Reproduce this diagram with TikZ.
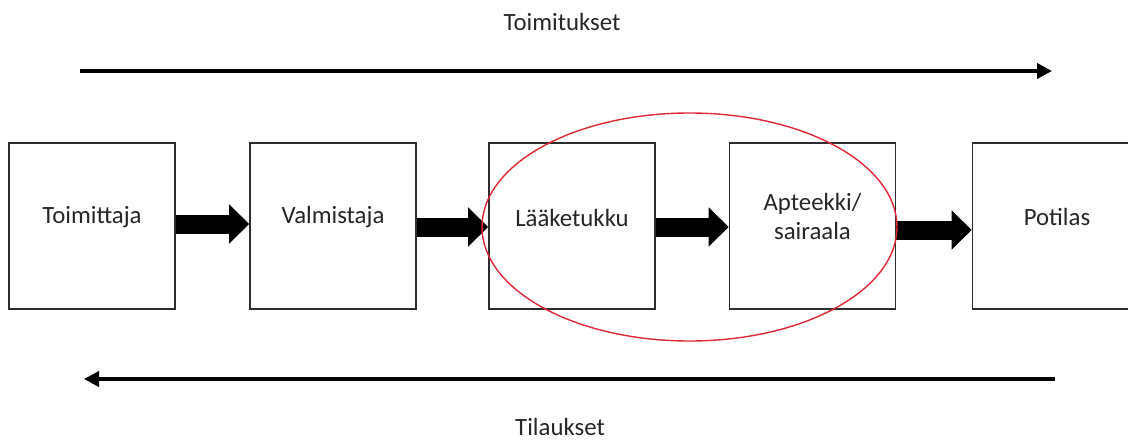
\documentclass[tikz,border=0pt]{standalone}
\usepackage{fontspec}
\setmainfont{Carlito}
\usetikzlibrary{arrows.meta}
\definecolor{loopred}{RGB}{222,40,52}
\definecolor{boxline}{RGB}{45,45,45}
\tikzset{
  lbl/.style={font=\fontsize{24.8}{29}\selectfont, text=black!85, inner sep=0pt, align=center},
  chainbox/.style={draw=boxline, line width=1.6pt, minimum width=166pt, minimum height=166pt, inner sep=0pt, fill=white},
  blockarrow/.style={line width=19pt, -{Triangle[length=20pt,width=38pt]}},
  flowarrow/.style={line width=4pt, -{Triangle[length=15pt,width=15pt]}}
}
\begin{document}
\begin{tikzpicture}[x=1pt,y=-1pt]
  \clip (0,0) rectangle (1128,442);
  \fill[white] (0,0) rectangle (1128,442);

  % supply chain boxes
  \node[chainbox] (b1) at (92,226) {};
  \node[chainbox] (b2) at (333,226) {};
  \node[chainbox] (b3) at (572,226) {};
  \node[chainbox] (b4) at (812.5,226) {};
  \node[chainbox] (b5) at (1055.5,226) {};

  % box labels
  \node[lbl] (t1) at (92,217) {Toimittaja};
  \node[lbl] (t2) at (333,217) {Valmistaja};
  \node[lbl] (t3) at (572,218) {Lääketukku};
  \node[lbl] (t4) at (812.5,216) {Apteekki/\\sairaala};
  \node[lbl] (t5) at (1057,217) {Potilas};

  % block arrows between the stages
  \draw[blockarrow] ([yshift=2pt]b1.east) -- ([yshift=2pt]b2.west);
  \draw[blockarrow] ([yshift=-1pt]b2.east) -- ([yshift=-1pt]b3.west);
  \draw[blockarrow] ([yshift=-1pt]b3.east) -- ([yshift=-1pt]b4.west);
  \draw[blockarrow] ([yshift=-4pt]b4.east) -- ([yshift=-4pt]b5.west);

  % wholesaler and pharmacy highlighted
  \draw[loopred, line width=1.4pt] (689.5,227) ellipse [x radius=207.5, y radius=114];

  % deliveries and orders
  \node[lbl] (deliv) at (562,22) {Toimitukset};
  \node[lbl] (orders) at (560,427) {Tilaukset};
  \coordinate (d0) at (80,71);
  \coordinate (d1) at (1052,71);
  \coordinate (o0) at (1055,379);
  \coordinate (o1) at (84,379);
  \draw[flowarrow] (d0) -- (d1);
  \draw[flowarrow] (o0) -- (o1);
\end{tikzpicture}
\end{document}
